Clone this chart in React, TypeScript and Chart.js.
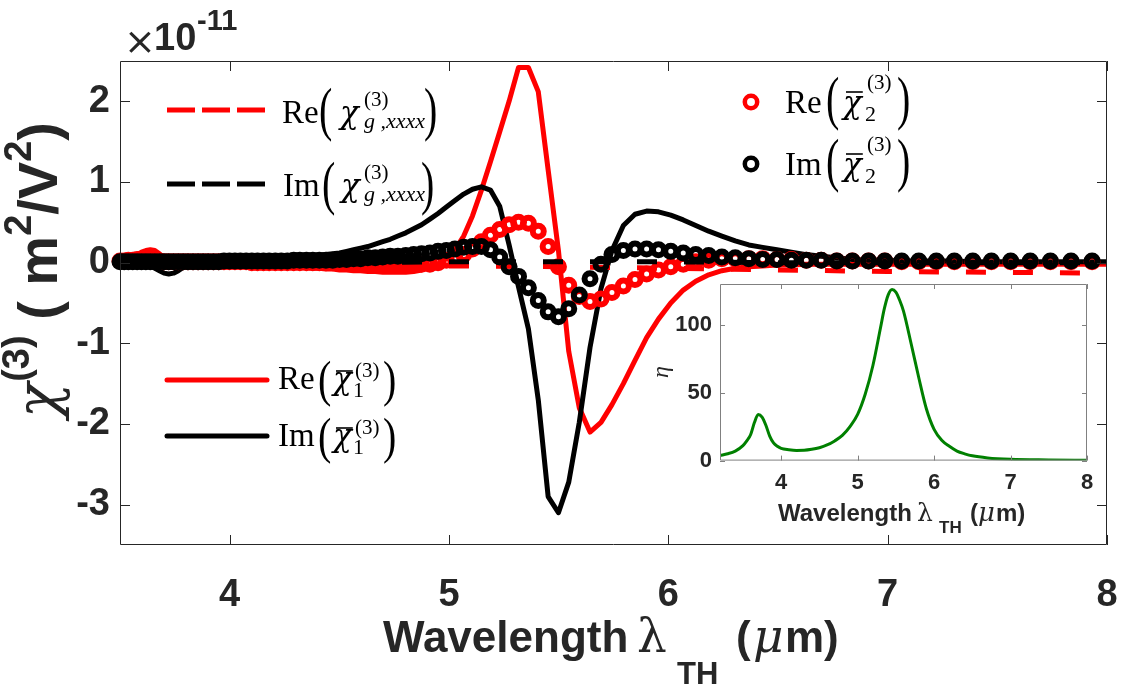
import React, { useEffect, useRef } from 'react';
import { Chart, registerables } from 'chart.js';

Chart.register(...registerables);

// Wavelength grid of the simulated spectra (µm)
const LAMBDA = [
  3.500, 3.519, 3.538, 3.558, 3.578, 3.598, 3.618, 3.638, 3.659, 3.680,
  3.701, 3.722, 3.744, 3.766, 3.788, 3.810, 3.833, 3.856, 3.879, 3.902,
  3.926, 3.950, 3.974, 3.999, 4.024, 4.049, 4.075, 4.101, 4.127, 4.154,
  4.180, 4.208, 4.235, 4.263, 4.292, 4.320, 4.350, 4.379, 4.409, 4.439,
  4.470, 4.501, 4.533, 4.565, 4.597, 4.630, 4.664, 4.698, 4.732, 4.767,
  4.803, 4.839, 4.875, 4.913, 4.950, 4.988, 5.027, 5.067, 5.107, 5.148,
  5.189, 5.231, 5.274, 5.317, 5.362, 5.407, 5.452, 5.499, 5.546, 5.594,
  5.643, 5.693, 5.743, 5.795, 5.848, 5.901, 5.955, 6.011, 6.068, 6.125,
  6.184, 6.244, 6.305, 6.367, 6.430, 6.495, 6.561, 6.629, 6.697, 6.768,
  6.839, 6.913, 6.987, 7.064, 7.142, 7.222, 7.304, 7.388, 7.473, 7.561,
  7.650, 7.742, 7.836, 7.932, 8.031,
];

// Re(chi1), solid red (x 1e-11 m^2/V^2)
const RE_CHI1 = [
  0.00, 0.02, 0.04, 0.07, 0.10, 0.13, 0.15, 0.16, 0.15, 0.11,
  0.06, 0.02, -0.01, -0.02, -0.03, -0.03, -0.03, -0.03, -0.03, -0.03,
  -0.03, -0.03, -0.03, -0.03, -0.03, -0.03, -0.04, -0.04, -0.04, -0.04,
  -0.04, -0.05, -0.05, -0.05, -0.06, -0.06, -0.06, -0.07, -0.07, -0.08,
  -0.08, -0.09, -0.09, -0.10, -0.10, -0.11, -0.11, -0.12, -0.12, -0.12,
  -0.12, -0.11, -0.09, -0.06, -0.02, 0.05, 0.16, 0.33, 0.58, 0.90,
  1.25, 1.62, 2.00, 2.42, 2.42, 2.12, 1.15, 0.15, -1.10, -1.80,
  -2.10, -1.98, -1.76, -1.50, -1.21, -0.93, -0.70, -0.50, -0.34, -0.23,
  -0.15, -0.10, -0.07, -0.05, -0.04, -0.03, -0.03, -0.02, -0.02, -0.02,
  -0.02, -0.02, -0.02, -0.02, -0.02, -0.02, -0.02, -0.02, -0.02, -0.02,
  -0.02, -0.02, -0.02, -0.02, -0.02,
];

// Im(chi1), solid black
const IM_CHI1 = [
  0.00, 0.00, 0.00, 0.00, -0.01, -0.01, -0.02, -0.04, -0.07, -0.10,
  -0.13, -0.14, -0.13, -0.10, -0.06, -0.03, -0.01, 0.00, 0.01, 0.01,
  0.01, 0.01, 0.02, 0.02, 0.02, 0.02, 0.03, 0.03, 0.03, 0.04,
  0.04, 0.05, 0.05, 0.06, 0.06, 0.07, 0.08, 0.08, 0.09, 0.10,
  0.11, 0.12, 0.14, 0.16, 0.18, 0.20, 0.23, 0.26, 0.29, 0.33,
  0.37, 0.42, 0.47, 0.54, 0.61, 0.69, 0.77, 0.85, 0.91, 0.94,
  0.90, 0.70, 0.22, -0.30, -0.82, -1.70, -2.90, -3.10, -2.72, -1.98,
  -1.05, -0.32, 0.15, 0.46, 0.60, 0.64, 0.63, 0.59, 0.53, 0.46,
  0.39, 0.33, 0.27, 0.22, 0.19, 0.16, 0.13, 0.10, 0.08, 0.06,
  0.04, 0.03, 0.03, 0.02, 0.02, 0.02, 0.02, 0.01, 0.01, 0.01,
  0.01, 0.01, 0.01, 0.01, 0.01,
];

// Re(chi2), red circles
const RE_CHI2 = [
  0.02, 0.02, 0.03, 0.03, 0.04, 0.04, 0.04, 0.04, 0.03, 0.02,
  0.01, 0.01, 0.01, 0.01, 0.01, 0.01, 0.01, 0.01, 0.01, 0.01,
  0.01, 0.01, 0.01, 0.01, 0.01, 0.01, 0.01, 0.00, 0.00, 0.00,
  0.00, 0.00, 0.00, 0.00, 0.00, 0.00, 0.00, 0.00, 0.00, 0.00,
  0.00, -0.01, -0.01, -0.01, -0.01, -0.02, -0.02, -0.02, -0.02, -0.02,
  -0.02, -0.02, -0.02, -0.02, 0.00, 0.03, 0.06, 0.10, 0.17, 0.26,
  0.34, 0.41, 0.47, 0.50, 0.49, 0.39, 0.20, -0.05, -0.28, -0.42,
  -0.48, -0.45, -0.37, -0.29, -0.21, -0.14, -0.09, -0.05, -0.02, 0.01,
  0.03, 0.05, 0.05, 0.05, 0.05, 0.04, 0.04, 0.03, 0.03, 0.02,
  0.02, 0.02, 0.02, 0.01, 0.01, 0.01, 0.01, 0.01, 0.01, 0.01,
  0.01, 0.01, 0.01, 0.01, 0.01,
];

// Im(chi2), black circles
const IM_CHI2 = [
  0.01, 0.01, 0.01, 0.01, 0.01, 0.01, 0.01, 0.01, 0.01, 0.01,
  0.01, 0.01, 0.01, 0.01, 0.01, 0.01, 0.01, 0.01, 0.01, 0.01,
  0.01, 0.01, 0.02, 0.02, 0.02, 0.02, 0.02, 0.02, 0.02, 0.02,
  0.02, 0.02, 0.02, 0.02, 0.03, 0.03, 0.03, 0.03, 0.03, 0.03,
  0.03, 0.04, 0.04, 0.05, 0.05, 0.06, 0.06, 0.07, 0.08, 0.08,
  0.09, 0.10, 0.11, 0.12, 0.14, 0.15, 0.17, 0.19, 0.20, 0.20,
  0.16, 0.07, -0.05, -0.17, -0.31, -0.47, -0.61, -0.67, -0.57, -0.40,
  -0.20, -0.02, 0.10, 0.15, 0.17, 0.17, 0.16, 0.14, 0.12, 0.10,
  0.09, 0.07, 0.06, 0.05, 0.04, 0.04, 0.03, 0.03, 0.03, 0.02,
  0.02, 0.02, 0.02, 0.02, 0.02, 0.02, 0.02, 0.02, 0.02, 0.02,
  0.02, 0.02, 0.02, 0.02, 0.02,
];

// Graphene chi(3)_xxxx, dashed lines
const LAMBDA_G = [3.5, 4.0, 4.5, 5.0, 5.5, 6.0, 6.5, 7.0, 7.5, 8.0];
const RE_CHIG = [-0.02, -0.03, -0.03, -0.04, -0.05, -0.07, -0.09, -0.11, -0.12, -0.13];
const IM_CHIG = [0.0, 0.0, 0.0, 0.01, 0.01, 0.01, 0.0, 0.0, 0.0, 0.0];

// Enhancement factor eta (inset)
const ETA_LAMBDA = [
  3.2, 3.3, 3.4, 3.5, 3.55, 3.6, 3.65, 3.7, 3.75, 3.8, 3.85, 3.9, 3.95, 4.0,
  4.1, 4.2, 4.3, 4.4, 4.5, 4.6, 4.7, 4.8, 4.9, 5.0, 5.1, 5.2, 5.3, 5.35,
  5.4, 5.45, 5.5, 5.55, 5.6, 5.7, 5.8, 5.9, 6.0, 6.1, 6.2, 6.3, 6.4, 6.5,
  6.7, 7.0, 7.5, 8.0,
];
const ETA = [
  3.8, 5, 7, 11, 14.5, 19, 28, 34, 32, 26, 18, 13, 10.5, 9,
  8, 7.5, 7.6, 8.3, 9.5, 11.5, 14.5, 18.5, 25, 34, 49, 70, 98, 112,
  122, 126, 124, 118, 110, 86, 61, 38, 23, 15, 10.5, 7, 5, 3.5,
  2, 1, 0.5, 0.2,
];

const X_TICKS = [4, 5, 6, 7, 8];
const Y_TICKS = [-3, -2, -1, 0, 1, 2];
const INSET_X_TICKS = [4, 5, 6, 7, 8];
const INSET_Y_TICKS = [0, 50, 100];

const SANS = "'Liberation Sans', Arial, Helvetica, sans-serif";
const SERIF = "'Liberation Serif', 'Times New Roman', serif";
const GREEK = "'DejaVu Serif', serif";
const INK = '#262626';

function pts(xs: number[], ys: number[]) {
  return xs.map((x, i) => ({ x, y: ys[i] }));
}

function fixTicks(values: number[]) {
  return (axis: any) => {
    axis.ticks = values.map((v) => ({ value: v }));
  };
}

function txt(ctx: CanvasRenderingContext2D, s: string, x: number, y: number, font: string, color = INK) {
  ctx.font = font;
  ctx.fillStyle = color;
  ctx.textAlign = 'left';
  ctx.textBaseline = 'alphabetic';
  ctx.fillText(s, x, y);
  return ctx.measureText(s).width;
}

function drawFrame(chart: any, xt: number[], yt: number[], len: number, color: string) {
  const { ctx, chartArea: a, scales } = chart;
  ctx.save();
  ctx.strokeStyle = color;
  ctx.lineWidth = 1;
  ctx.beginPath();
  ctx.rect(a.left + 0.5, a.top + 0.5, a.right - a.left - 1, a.bottom - a.top - 1);
  for (const v of xt) {
    const px = Math.round(scales.x.getPixelForValue(v)) + 0.5;
    ctx.moveTo(px, a.bottom);
    ctx.lineTo(px, a.bottom - len);
    ctx.moveTo(px, a.top);
    ctx.lineTo(px, a.top + len);
  }
  for (const v of yt) {
    const py = Math.round(scales.y.getPixelForValue(v)) + 0.5;
    ctx.moveTo(a.left, py);
    ctx.lineTo(a.left + len, py);
    ctx.moveTo(a.right, py);
    ctx.lineTo(a.right - len, py);
  }
  ctx.stroke();
  ctx.restore();
}

// tall bracket, stretched vertically to height h and centred on cy
function drawParen(ctx: CanvasRenderingContext2D, ch: string, x: number, cy: number, h: number) {
  ctx.save();
  ctx.font = `32px ${SERIF}`;
  ctx.fillStyle = '#000';
  ctx.textAlign = 'left';
  ctx.textBaseline = 'alphabetic';
  const m = ctx.measureText(ch);
  const gh = m.actualBoundingBoxAscent + m.actualBoundingBoxDescent;
  ctx.translate(x, cy);
  ctx.scale(1.25, h / gh);
  ctx.fillText(ch, 0, (m.actualBoundingBoxAscent - m.actualBoundingBoxDescent) / 2);
  ctx.restore();
}

interface ChiLabel {
  head: string;
  hx: number;
  base: number;
  lpx: number;
  rpx: number;
  pc: number;
  ph: number;
  chix: number;
  barY: number | null;
  supx: number;
  supBase: number;
  sub: string;
  subItalic: boolean;
  subx: number;
  subBase: number;
}

function drawChiLabel(ctx: CanvasRenderingContext2D, e: ChiLabel) {
  txt(ctx, e.head, e.hx, e.base, `33px ${SERIF}`, '#000');
  drawParen(ctx, '(', e.lpx, e.pc, e.ph);
  const cw = txt(ctx, 'χ', e.chix, e.base, `italic 31px ${GREEK}`, '#000');
  if (e.barY !== null) {
    ctx.save();
    ctx.strokeStyle = '#000';
    ctx.lineWidth = 1.6;
    ctx.beginPath();
    ctx.moveTo(e.chix + 3, e.barY);
    ctx.lineTo(e.chix + cw + 1, e.barY);
    ctx.stroke();
    ctx.restore();
  }
  txt(ctx, '(3)', e.supx, e.supBase, `21px ${SERIF}`, '#000');
  txt(ctx, e.sub, e.subx, e.subBase, `${e.subItalic ? 'italic ' : ''}22px ${SERIF}`, '#000');
  drawParen(ctx, ')', e.rpx, e.pc, e.ph);
}

function legendLine(ctx: CanvasRenderingContext2D, x0: number, x1: number, y: number, color: string, dash: number[]) {
  ctx.save();
  ctx.strokeStyle = color;
  ctx.lineWidth = 5;
  ctx.lineCap = dash.length ? 'butt' : 'round';
  ctx.setLineDash(dash);
  ctx.beginPath();
  ctx.moveTo(x0, y);
  ctx.lineTo(x1, y);
  ctx.stroke();
  ctx.restore();
}

function legendCircle(ctx: CanvasRenderingContext2D, x: number, y: number, color: string) {
  ctx.save();
  ctx.strokeStyle = color;
  ctx.lineWidth = 4.5;
  ctx.beginPath();
  ctx.arc(x, y, 6.2, 0, Math.PI * 2);
  ctx.stroke();
  ctx.restore();
}

function drawMainText(ctx: CanvasRenderingContext2D) {
  ctx.save();
  // axis exponent
  txt(ctx, '×', 124, 54, `38px 'DejaVu Sans', sans-serif`);
  txt(ctx, '10', 154, 50, `bold 38px ${SANS}`);
  txt(ctx, '-11', 197, 30, `bold 29px ${SANS}`);

  // x title
  txt(ctx, 'Wavelength', 383, 652, `bold 44px ${SANS}`);
  txt(ctx, 'λ', 637, 652, `47px ${GREEK}`);
  txt(ctx, 'TH', 677, 684, `bold 31px ${SANS}`);
  txt(ctx, '(', 736, 652, `bold 44px ${SANS}`);
  txt(ctx, 'μ', 753, 652, `italic 47px ${GREEK}`);
  txt(ctx, 'm)', 785, 652, `bold 44px ${SANS}`);

  // y title, rotated
  ctx.save();
  ctx.translate(57, 418);
  ctx.rotate(-Math.PI / 2);
  let u = 0;
  u += txt(ctx, 'χ', u, 0, `italic 58px ${GREEK}`);
  u += 1;
  u += txt(ctx, '(3)', u, -28, `bold 38px ${SANS}`);
  u += txt(ctx, ' ( m', u, 0, `bold 56px ${SANS}`);
  u += txt(ctx, '2', u, -26, `bold 38px ${SANS}`);
  u += txt(ctx, '/V', u, 0, `bold 56px ${SANS}`);
  u += txt(ctx, '2', u, -26, `bold 38px ${SANS}`);
  txt(ctx, ')', u, 0, `bold 56px ${SANS}`);
  ctx.restore();

  // legend: graphene model (dashed)
  legendLine(ctx, 167, 265, 110, '#ff0000', [28, 7]);
  drawChiLabel(ctx, {
    head: 'Re', hx: 282, base: 123, lpx: 319, rpx: 424, pc: 114.5, ph: 55,
    chix: 340, barY: null, supx: 364, supBase: 106, sub: 'g ,xxxx', subItalic: true, subx: 364, subBase: 128,
  });
  legendLine(ctx, 167, 265, 184, '#000000', [28, 7]);
  drawChiLabel(ctx, {
    head: 'Im', hx: 283, base: 196, lpx: 322, rpx: 421, pc: 188, ph: 55,
    chix: 341, barY: null, supx: 364, supBase: 179, sub: 'g ,xxxx', subItalic: true, subx: 364, subBase: 201,
  });

  // legend: circles
  legendCircle(ctx, 751, 102, '#ff0000');
  drawChiLabel(ctx, {
    head: 'Re', hx: 785, base: 113, lpx: 826, rpx: 897, pc: 103, ph: 56,
    chix: 843, barY: 92, supx: 867, supBase: 89, sub: '2', subItalic: false, subx: 865, subBase: 121,
  });
  legendCircle(ctx, 751, 164, '#000000');
  drawChiLabel(ctx, {
    head: 'Im', hx: 785, base: 175, lpx: 826, rpx: 897, pc: 165, ph: 56,
    chix: 843, barY: 154, supx: 867, supBase: 151, sub: '2', subItalic: false, subx: 865, subBase: 183,
  });

  // legend: solid lines
  legendLine(ctx, 167, 267, 380, '#ff0000', []);
  drawChiLabel(ctx, {
    head: 'Re', hx: 278, base: 389, lpx: 318, rpx: 383, pc: 383.5, ph: 47,
    chix: 333, barY: 371, supx: 355, supBase: 377, sub: '1', subItalic: false, subx: 353, subBase: 397,
  });
  legendLine(ctx, 167, 267, 436, '#000000', []);
  drawChiLabel(ctx, {
    head: 'Im', hx: 278, base: 446, lpx: 318, rpx: 383, pc: 440, ph: 47,
    chix: 333, barY: 428, supx: 355, supBase: 434, sub: '1', subItalic: false, subx: 353, subBase: 454,
  });
  ctx.restore();
}

function drawInsetText(ctx: CanvasRenderingContext2D) {
  // coordinates local to the inset canvas (offset 640, 270)
  const ox = -640;
  const oy = -270;
  txt(ctx, 'Wavelength', 778 + ox, 521 + oy, `bold 24px ${SANS}`);
  txt(ctx, 'λ', 917 + ox, 521 + oy, `25px ${GREEK}`);
  txt(ctx, 'TH', 939 + ox, 533 + oy, `bold 17px ${SANS}`);
  txt(ctx, '(', 970 + ox, 521 + oy, `bold 24px ${SANS}`);
  txt(ctx, 'μ', 978 + ox, 521 + oy, `italic 26px ${GREEK}`);
  txt(ctx, 'm)', 996 + ox, 521 + oy, `bold 24px ${SANS}`);
  ctx.save();
  ctx.translate(668 + ox, 372 + oy);
  ctx.rotate(-Math.PI / 2);
  ctx.font = `italic 24px ${SERIF}`;
  ctx.fillStyle = INK;
  ctx.textAlign = 'center';
  ctx.fillText('η', 0, 0);
  ctx.restore();
}

const tickFont = (size: number) => ({ family: SANS, size, weight: 'bold' as const });

export default function App() {
  const mainRef = useRef<HTMLCanvasElement>(null);
  const insetRef = useRef<HTMLCanvasElement>(null);

  useEffect(() => {
    const mainDecor = {
      id: 'mainDecor',
      afterDatasetsDraw(chart: any) {
        drawFrame(chart, X_TICKS, Y_TICKS, 10, INK);
      },
      afterDraw(chart: any) {
        drawMainText(chart.ctx);
      },
    };

    const circles = (ys: number[], color: string, order: number) => ({
      data: pts(LAMBDA, ys).slice(0, -1),
      showLine: false,
      pointRadius: 5.5,
      pointHoverRadius: 5.5,
      pointBorderWidth: 6,
      pointBorderColor: color,
      pointBackgroundColor: 'rgba(0,0,0,0)',
      clip: false as any,
      order,
    });
    const line = (xs: number[], ys: number[], color: string, width: number, dash: number[], order: number) => ({
      data: pts(xs, ys),
      showLine: true,
      borderColor: color,
      borderWidth: width,
      borderDash: dash,
      borderJoinStyle: 'round' as const,
      pointRadius: 0,
      pointHoverRadius: 0,
      tension: 0,
      order,
    });

    const noPad = (h: number | null, w: number | null) => (s: any) => {
      if (h !== null) s.height = h;
      if (w !== null) s.width = w;
      s.paddingLeft = 0;
      s.paddingRight = 0;
      s.paddingTop = 0;
      s.paddingBottom = 0;
    };

    const main = new Chart(mainRef.current as HTMLCanvasElement, {
      type: 'scatter',
      data: {
        datasets: [
          line(LAMBDA_G, IM_CHIG, '#000000', 5, [20, 27], 0),
          circles(IM_CHI2, '#000000', 1),
          line(LAMBDA_G, RE_CHIG, '#ff0000', 5, [20, 27], 2),
          circles(RE_CHI2, '#ff0000', 3),
          line(LAMBDA, IM_CHI1, '#000000', 5, [], 4),
          line(LAMBDA, RE_CHI1, '#ff0000', 5, [], 5),
        ] as any,
      },
      options: {
        animation: false,
        responsive: false,
        events: [],
        layout: { padding: { top: 61, right: 16, left: 0, bottom: 0 } },
        plugins: { legend: { display: false }, tooltip: { enabled: false } },
        scales: {
          x: {
            type: 'linear',
            min: 3.5,
            max: 8,
            afterBuildTicks: fixTicks(X_TICKS),
            afterFit: noPad(145, null),
            grid: { display: false, drawTicks: false },
            border: { display: false },
            ticks: { autoSkip: false, maxRotation: 0, padding: 28, color: INK, font: tickFont(38), callback: (v: any) => String(v) },
          },
          y: {
            type: 'linear',
            min: -3.5,
            max: 2.5,
            afterBuildTicks: fixTicks(Y_TICKS),
            afterFit: noPad(null, 120),
            grid: { display: false, drawTicks: false },
            border: { display: false },
            ticks: { autoSkip: false, padding: 10, color: INK, font: tickFont(38), callback: (v: any) => String(v) },
          },
        },
      } as any,
      plugins: [mainDecor],
    });

    const insetDecor = {
      id: 'insetDecor',
      beforeDatasetsDraw(chart: any) {
        const { ctx, chartArea: a } = chart;
        ctx.save();
        ctx.fillStyle = '#ffffff';
        ctx.fillRect(a.left, a.top, a.right - a.left, a.bottom - a.top);
        ctx.restore();
      },
      afterDatasetsDraw(chart: any) {
        drawFrame(chart, INSET_X_TICKS, INSET_Y_TICKS, 5, '#808080');
      },
      afterDraw(chart: any) {
        drawInsetText(chart.ctx);
      },
    };

    const inset = new Chart(insetRef.current as HTMLCanvasElement, {
      type: 'scatter',
      data: {
        datasets: [
          {
            data: pts(ETA_LAMBDA, ETA),
            showLine: true,
            borderColor: '#008000',
            borderWidth: 3,
            pointRadius: 0,
            cubicInterpolationMode: 'monotone',
          },
        ] as any,
      },
      options: {
        animation: false,
        responsive: false,
        events: [],
        layout: { padding: { top: 14, right: 23, left: 0, bottom: 0 } },
        plugins: { legend: { display: false }, tooltip: { enabled: false } },
        scales: {
          x: {
            type: 'linear',
            min: 3.2,
            max: 8,
            afterBuildTicks: fixTicks(INSET_X_TICKS),
            afterFit: noPad(89.4, null),
            grid: { display: false, drawTicks: false },
            border: { display: false },
            ticks: { autoSkip: false, maxRotation: 0, padding: 9, color: INK, font: tickFont(22), callback: (v: any) => String(v) },
          },
          y: {
            type: 'linear',
            min: 0,
            max: 130,
            afterBuildTicks: fixTicks(INSET_Y_TICKS),
            afterFit: noPad(null, 80),
            grid: { display: false, drawTicks: false },
            border: { display: false },
            ticks: { autoSkip: false, padding: 8, color: INK, font: tickFont(22), callback: (v: any) => String(v) },
          },
        },
      } as any,
      plugins: [insetDecor],
    });

    return () => {
      main.destroy();
      inset.destroy();
    };
  }, []);

  return (
    <div style={{ position: 'fixed', left: 0, top: 0, width: 1123, height: 690, background: '#ffffff' }}>
      <canvas ref={mainRef} width={1123} height={690} style={{ position: 'absolute', left: 0, top: 0 }} />
      <canvas ref={insetRef} width={470} height={280} style={{ position: 'absolute', left: 640, top: 270 }} />
    </div>
  );
}
